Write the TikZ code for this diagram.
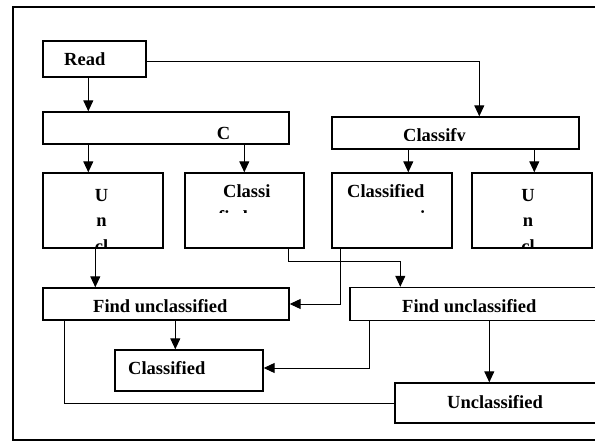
\documentclass[tikz,border=0pt]{standalone}
\usepackage{fontspec}
\setmainfont{Liberation Serif}
\usetikzlibrary{arrows.meta, positioning, calc}

\begin{document}
\begin{tikzpicture}[
    x=1pt, y=-1pt,
    box/.style={draw, line width=1.4pt, inner sep=0pt},
    bar/.style={box, minimum height=32pt},
    tall/.style={box, minimum width=120pt, minimum height=75pt},
    label/.style={font=\fontsize{18.5}{25}\selectfont\bfseries, inner sep=0pt},
    arrow/.style={-{Triangle[length=11pt, width=10pt]}, line width=1pt},
    link/.style={line width=1pt},
  ]
    \useasboundingbox (0,0) rectangle (595,441);

    % Frame (open on the right, it runs off the page)
    \draw[line width=1.6pt] (595,7) -- (13,7) -- (13,440) -- (595,440);

    % First row
    \node[box, minimum width=103pt, minimum height=36pt] (read) at (94.5,59) {};
    \node[bar, minimum width=246pt] (split) at (166,128) {};
    \node[bar, minimum width=247pt] (classify) at (455.5,133) {};

    % Result boxes
    \node[tall] (uncl1) at (103,210.5) {};
    \node[tall, minimum width=119pt] (classi) at (244.5,210.5) {};
    \node[tall] (clsd1) at (392,210.5) {};
    \node[tall] (uncl2) at (532,210.5) {};

    % Find boxes
    \node[bar, minimum width=300pt, minimum height=33pt] (findR) at (500,304) {};
    \node[bar, minimum width=246pt] (findL) at (166,304) {};
    \node[box, minimum width=148pt, minimum height=41pt] (clsd2) at (189,370.5) {};
    \node[box, minimum width=260pt, minimum height=40pt] (uncl3) at (525,403) {};

    % Texts
    \node[label, anchor=base west] (readtxt) at (64,66) {Read};
    \node[label, anchor=base] (splittxt) at (223.5,140) {C};
    \begin{scope}
      \clip (333,118) rectangle (578,141);
      \node[label, anchor=base west] (classifytxt) at (403,142) {Classify};
    \end{scope}
    \begin{scope}
      \clip (44,174) rectangle (162,247.5);
      \node[label, anchor=base] (u1a) at (101.5,202) {U};
      \node[label, anchor=base] (u1b) at (101.5,227) {n};
      \node[label, anchor=base] (u1c) at (101.5,252) {cl};
    \end{scope}
    \begin{scope}
      \clip (186,174) rectangle (303,213);
      \node[label, anchor=base west] (classia) at (223,198) {Classi};
      \node[label, anchor=base west] (classib) at (218,223) {fied};
    \end{scope}
    \begin{scope}
      \clip (333,174) rectangle (451,213);
      \node[label, anchor=base west] (clsd1a) at (347,198) {Classified};
      \node[label, anchor=base west] (clsd1b) at (420,223) {i};
    \end{scope}
    \begin{scope}
      \clip (473,174) rectangle (591,247.5);
      \node[label, anchor=base] (u2a) at (528,202) {U};
      \node[label, anchor=base] (u2b) at (528,227) {n};
      \node[label, anchor=base] (u2c) at (528,252) {cl};
    \end{scope}
    \begin{scope}
      \clip (44,289) rectangle (288,312);
      \node[label, anchor=base west] (findLtxt) at (93,312.5) {Find unclassified};
    \end{scope}
    \begin{scope}
      \clip (351,288) rectangle (595,312);
      \node[label, anchor=base west] (findRtxt) at (402,312.5) {Find unclassified};
    \end{scope}
    \begin{scope}
      \clip (116,351) rectangle (262,374);
      \node[label, anchor=base west] (clsd2txt) at (128,374.5) {Classified};
    \end{scope}
    \begin{scope}
      \clip (396,384) rectangle (595,408);
      \node[label, anchor=base west] (uncl3txt) at (447,408.5) {Unclassified};
    \end{scope}

    % Arrows
    \draw[arrow] ([xshift=46]read.south west) -- ([xshift=46]split.north west);
    \draw[arrow] ([yshift=-3]read.east) -| ([xshift=148]classify.north west);
    \draw[arrow] ([xshift=46]split.south west) -- ([xshift=46]uncl1.north west);
    \draw[arrow] ([xshift=202]split.south west) -- ([xshift=60]classi.north west);
    \draw[arrow] ([xshift=77]classify.south west) -- ([xshift=77]clsd1.north west);
    \draw[arrow] ([xshift=203]classify.south west) -- ([xshift=63]uncl2.north west);
    \draw[arrow] ([xshift=53]uncl1.south west) -- ([xshift=53]findL.north west);
    \draw[arrow] ([xshift=104]classi.south west) -- ++(0,13) -| ([xshift=51]findR.north west);
    \draw[arrow] ([xshift=9]clsd1.south west) |- (findL.east);
    \draw[arrow] ([xshift=133]findL.south west) -- ([xshift=61]clsd2.north west);
    \draw[link] ([xshift=22]findL.south west) |- (uncl3.west);
    \draw[arrow] ([xshift=140]findR.south west) -- ([xshift=95]uncl3.north west);
    \draw[arrow] ([xshift=20]findR.south west) |- ([yshift=2.5]clsd2.east);
  \end{tikzpicture}
\end{document}
